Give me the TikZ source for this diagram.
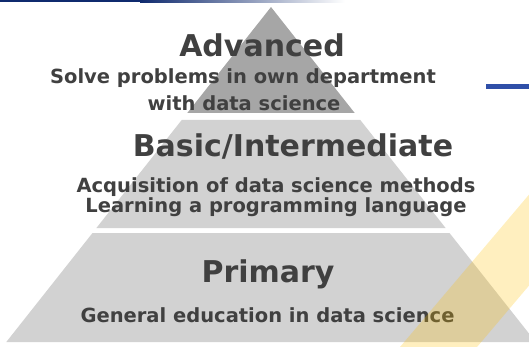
\documentclass[tikz,border=0pt]{standalone}
\usepackage{fontspec}
\setmainfont{DejaVu Sans}
\definecolor{navybar}{HTML}{0F2A6E}
\definecolor{bluemark}{HTML}{2F4FA8}
\definecolor{pyrtop}{HTML}{A6A6A6}
\definecolor{pyrband}{HTML}{D2D2D2}
\definecolor{txtgray}{HTML}{404040}
\definecolor{stripe}{HTML}{FFC000}

\begin{document}
\begin{tikzpicture}
            [x=1pt, y=-1pt,
             level/.style={font=\bfseries\fontsize{30}{30}\selectfont, text=txtgray, anchor=base, inner sep=0pt},
             detail/.style={font=\bfseries\fontsize{19.5}{20}\selectfont, text=txtgray, anchor=base, inner sep=0pt}]
            \useasboundingbox (0,0) rectangle (529,347);
            \clip (0,0) rectangle (529,347);

            % top bar
            \fill[navybar] (0,0) rectangle (140,2.5);
            \shade[left color=navybar, right color=white] (140,0) rectangle (345,2.5);

            % pyramid
            \fill[pyrtop] (271,7) -- (354.7,113) -- (187.3,113) -- cycle;
            \fill[pyrband] (181.7,120) -- (360.3,120) -- (445.6,228) -- (96.4,228) -- cycle;
            \fill[pyrband] (92.5,233) -- (449.5,233) -- (535.7,342) -- (6.3,342) -- cycle;

            % labels
            \node[level] (adv) at (262,57) {Advanced};
            \node[detail] (advA) at (243,84) {Solve problems in own department};
            \node[detail] (advB) at (244,111) {with data science};
            \node[level] (basic) at (293,157) {Basic/Intermediate};
            \node[detail] (basicA) at (276,193) {Acquisition of data science methods};
            \node[detail] (basicB) at (276,212) {Learning a programming language};
            \node[level] (prim) at (268,282) {Primary};
            \node[detail] (primA) at (267.5,322) {General education in data science};

            % yellow stripe
            \fill[stripe, opacity=0.25] (389,360) -- (560,158) -- (637,158) -- (466,360) -- cycle;

            % blue mark
            \fill[bluemark] (486,84) rectangle (529,89);
        \end{tikzpicture}
\end{document}
